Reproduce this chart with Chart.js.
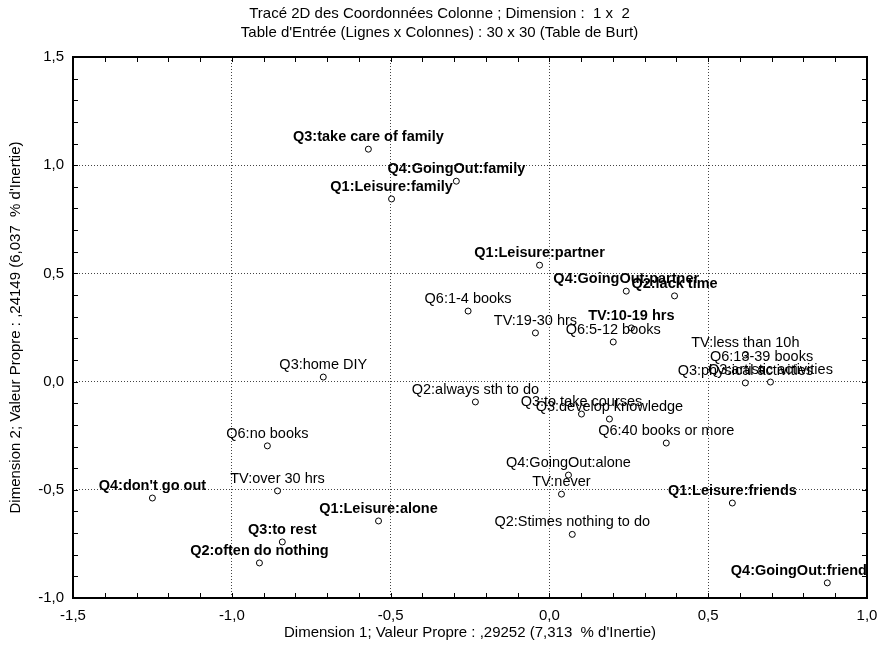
<!DOCTYPE html>
<html>
<head>
<meta charset="utf-8">
<script src="https://cdn.jsdelivr.net/npm/chart.js@4"></script>
<style>
  html, body { margin: 0; padding: 0; background: #fff; }
  #wrap { width: 879px; height: 653px; }
</style>
</head>
<body>
<div id="wrap"><canvas id="chart"></canvas></div>
<script>
const categories = [
  "Q3:take care of family", "Q4:GoingOut:family", "Q1:Leisure:family",
  "Q1:Leisure:partner", "Q4:GoingOut:partner", "Q2:lack time",
  "Q6:1-4 books", "TV:19-30 hrs", "TV:10-19 hrs", "Q6:5-12 books",
  "TV:less than 10h", "Q6:13-39 books", "Q3:physical activities", "Q3:artistic activities",
  "Q3:home DIY", "Q2:always sth to do", "Q3:to take courses", "Q3:develop knowledge",
  "Q6:40 books or more", "Q4:GoingOut:alone", "TV:never", "Q1:Leisure:friends",
  "Q2:Stimes nothing to do", "Q4:GoingOut:friends", "Q6:no books", "TV:over 30 hrs",
  "Q4:don't go out", "Q1:Leisure:alone", "Q3:to rest", "Q2:often do nothing"
];
const dim1 = [
  -0.570, -0.293, -0.497,
  -0.031, 0.242, 0.394,
  -0.256, -0.044, 0.258, 0.201,
  0.617, 0.668, 0.617, 0.696,
  -0.712, -0.233, 0.101, 0.189,
  0.368, 0.060, 0.038, 0.576,
  0.072, 0.875, -0.888, -0.856,
  -1.250, -0.538, -0.841, -0.913
];
const dim2 = [
  1.074, 0.926, 0.844,
  0.538, 0.418, 0.396,
  0.326, 0.225, 0.248, 0.183,
  0.123, 0.058, -0.006, -0.002,
  0.021, -0.094, -0.150, -0.173,
  -0.284, -0.432, -0.520, -0.561,
  -0.706, -0.930, -0.297, -0.505,
  -0.538, -0.644, -0.741, -0.838
];
const boldLabels = [
  "Q3:take care of family", "Q4:GoingOut:family", "Q1:Leisure:family",
  "Q1:Leisure:partner", "Q4:GoingOut:partner", "Q2:lack time", "TV:10-19 hrs",
  "Q1:Leisure:friends", "Q4:GoingOut:friends", "Q4:don't go out",
  "Q1:Leisure:alone", "Q3:to rest", "Q2:often do nothing"
];
const titleLines = [
  "Tracé 2D des Coordonnées Colonne ; Dimension :  1 x  2",
  "Table d'Entrée (Lignes x Colonnes) : 30 x 30 (Table de Burt)"
];
const xTitle = "Dimension 1; Valeur Propre : ,29252 (7,313  % d'Inertie)";
const yTitle = "Dimension 2; Valeur Propre : ,24149 (6,037  % d'Inertie)";

const FONT = "'Liberation Sans', Arial, sans-serif";

const points = categories.map((c, i) => ({ x: dim1[i], y: dim2[i] }));

// frame, minor ticks and point labels
const extras = {
  id: "extras",
  afterDatasetsDraw(chart) {
    const { ctx, chartArea: a, scales: { x, y } } = chart;
    ctx.save();
    ctx.strokeStyle = "#000";
    ctx.lineWidth = 1;
    ctx.beginPath();
    for (let v = -15; v <= 10; v++) {
      const px = Math.round(x.getPixelForValue(v / 10)) + 0.5;
      ctx.moveTo(px, a.bottom); ctx.lineTo(px, a.bottom - 5);
      ctx.moveTo(px, a.top); ctx.lineTo(px, a.top + 5);
    }
    for (let v = -10; v <= 15; v++) {
      const py = Math.round(y.getPixelForValue(v / 10)) + 0.5;
      ctx.moveTo(a.left, py); ctx.lineTo(a.left + 5, py);
      ctx.moveTo(a.right, py); ctx.lineTo(a.right - 5, py);
    }
    ctx.stroke();
    ctx.lineWidth = 2;
    ctx.strokeRect(a.left, a.top, a.right - a.left, a.bottom - a.top);

    ctx.beginPath();
    ctx.rect(a.left, a.top, a.right - a.left, a.bottom - a.top);
    ctx.clip();
    ctx.fillStyle = "#000";
    ctx.textAlign = "center";
    ctx.textBaseline = "middle";
    const meta = chart.getDatasetMeta(0);
    meta.data.forEach((el, i) => {
      const bold = boldLabels.includes(categories[i]);
      ctx.font = (bold ? "bold " : "") + "14.5px " + FONT;
      // labels running off the right edge get pulled back, only a few px stay cut
      const half = ctx.measureText(categories[i]).width / 2;
      const cx = Math.min(el.x, a.right + 8 - half);
      ctx.fillText(categories[i], cx, el.y - 12);
    });
    ctx.restore();
  }
};

const chartContainer = document.getElementById("chart");

new Chart(chartContainer, {
  type: "scatter",
  data: {
    datasets: [{
      data: points,
      pointRadius: 3,
      pointHoverRadius: 3,
      pointBackgroundColor: "#fff",
      pointBorderColor: "#000",
      pointBorderWidth: 1
    }]
  },
  options: {
    responsive: true,
    maintainAspectRatio: false,
    animation: false,
    layout: { padding: 0 },
    plugins: {
      legend: { display: false },
      tooltip: { enabled: false },
      title: {
        display: true,
        text: titleLines,
        color: "#000",
        font: { family: FONT, size: 15, weight: "normal", lineHeight: 1.27 },
        padding: { top: 4.5, bottom: 14.4 }
      }
    },
    scales: {
      x: {
        type: "linear",
        min: -1.5,
        max: 1.0,
        afterFit(scale) {
          scale.height = 55;
          scale.paddingLeft = 0;
          scale.paddingRight = 0;
        },
        ticks: {
          stepSize: 0.5,
          padding: 9,
          color: "#000",
          font: { family: FONT, size: 15 },
          maxRotation: 0,
          callback: (v) => v.toFixed(1).replace(".", ",")
        },
        grid: {
          color: "#444",
          drawTicks: false
        },
        border: { display: false, dash: [1, 2] },
        title: {
          display: true,
          text: xTitle,
          color: "#000",
          font: { family: FONT, size: 15, lineHeight: 1.2 },
          padding: { top: 0, bottom: 11 }
        }
      },
      y: {
        type: "linear",
        min: -1.0,
        max: 1.5,
        afterFit(scale) {
          scale.width = 73;
          scale.paddingTop = 0;
          scale.paddingBottom = 0;
        },
        ticks: {
          stepSize: 0.5,
          padding: 9,
          color: "#000",
          font: { family: FONT, size: 15 },
          callback: (v) => v.toFixed(1).replace(".", ",")
        },
        grid: {
          color: "#444",
          drawTicks: false
        },
        border: { display: false, dash: [1, 2] },
        title: {
          display: true,
          text: yTitle,
          color: "#000",
          font: { family: FONT, size: 15, lineHeight: 1.2 },
          padding: { top: 7, bottom: 0 }
        }
      },
      // empty right-hand axis, only keeps a 12px margin so the title stays centred on the page
      y2: {
        type: "linear",
        position: "right",
        min: -1.0,
        max: 1.5,
        afterFit(scale) {
          scale.width = 12;
          scale.paddingTop = 0;
          scale.paddingBottom = 0;
        },
        ticks: { display: false },
        grid: { display: false },
        border: { display: false }
      }
    }
  },
  plugins: [extras]
});
</script>
</body>
</html>
